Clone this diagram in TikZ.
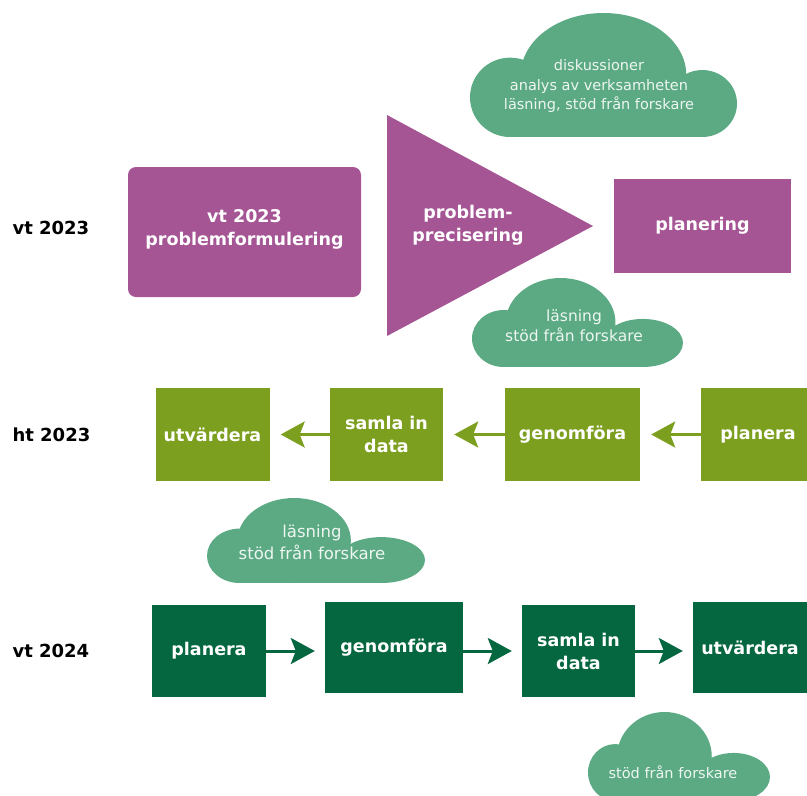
\documentclass[tikz,border=0pt]{standalone}
\usepackage{fontspec}
\setmainfont{DejaVu Sans}
\usetikzlibrary{arrows.meta}
\definecolor{lila}{HTML}{A55594}
\definecolor{oliv}{HTML}{7D9F1F}
\definecolor{morkgron}{HTML}{05673F}
\definecolor{molngron}{HTML}{5BAA84}
\definecolor{molntext}{HTML}{EEF6F1}
\newcommand{\rutfont}{\fontsize{17.5}{23}\selectfont}
\newcommand{\molnfont}{\fontsize{14.5}{19.5}\selectfont}
\tikzset{
    mybox/.style = {rectangle, inner sep=0pt, align=center, fill=lila, font=\bfseries\rutfont, text=white},
    myboxo/.style = {mybox, fill=oliv, minimum height=93},
    myboxg/.style = {mybox, fill=morkgron},
    mytext/.style = {align=center, font=\bfseries\rutfont, text=white},
    mycloudtext/.style = {align=center, font=\molnfont, text=molntext},
    myyear/.style = {anchor=west, font=\bfseries\fontsize{18}{22}\selectfont, text=black},
    edgeo/.style = {-{Stealth[length=24pt, width=26pt, inset=5pt]}, line width=3pt, oliv, shorten >=11pt},
    edgeg/.style = {-{Stealth[length=24pt, width=26pt, inset=5pt]}, line width=3pt, morkgron, shorten >=10pt},
    pics/moln/.style n args = {4}{code = {
        \fill[molngron] (0.15, 0.68) ellipse [x radius=0.15, y radius=0.32];
        \fill[molngron] (#1, 0.5) ellipse [x radius=#2, y radius=0.5];
        \fill[molngron] (#3, 0.73) ellipse [x radius=#4, y radius=0.27];
        \fill[molngron] (0.15, 0.6) rectangle (#3, 1.0);
    }}
}

\begin{document}
\begin{tikzpicture}[x=1pt, y=-1pt]
\useasboundingbox (0, 0) rectangle (807, 796);

% clouds
\pic[xscale=267, yscale=124] at (470, 13) {moln={0.5}{0.31}{0.87}{0.13}};
\pic[xscale=211, yscale=89] at (472, 278) {moln={0.42}{0.26}{0.81}{0.19}};
\pic[xscale=218, yscale=85] at (207, 498) {moln={0.40}{0.26}{0.80}{0.20}};
\pic[xscale=182, yscale=89] at (588, 712) {moln={0.42}{0.26}{0.80}{0.20}};
\node[mycloudtext] at (599, 86) (moln1) {diskussioner\\analys av verksamheten\\läsning, stöd från forskare};
\node[mycloudtext, font=\fontsize{15.5}{20}\selectfont] at (574, 326) (moln2) {läsning\\stöd från forskare};
\node[mycloudtext, font=\fontsize{16.5}{22}\selectfont] at (312, 542) (moln3) {läsning\\stöd från forskare};
\node[mycloudtext] at (673, 772) (moln4) {stöd från forskare};

% year labels
\node[myyear] at (9, 228) (vt23) {vt 2023};
\node[myyear] at (9, 435) (ht23) {ht 2023};
\node[myyear] at (9, 651) (vt24) {vt 2024};

% vt 2023
\node[mybox, rounded corners=8pt, minimum width=233, minimum height=130] at (244.5, 232) (form) {vt 2023\\problemformulering\\[-15pt]};
\fill[lila] (387, 115) -- (593, 226) -- (387, 336) -- cycle;
\node[mytext] at (468, 225) (prec) {problem-\\precisering};
\node[mybox, minimum width=177, minimum height=94] at (702.5, 226) (planering) {planering};

% ht 2023
\node[myboxo, minimum width=114] at (212.5, 434.5) (utv2) {utvärdera};
\node[myboxo, minimum width=113] at (386.5, 434.5) (saml2) {samla in\\data};
\node[myboxo, minimum width=135] at (572.5, 434.5) (geno2) {genomföra};
\node[myboxo, minimum width=114] at (758, 434.5) (plan2) {planera};

\draw[edgeo] (plan2) -- (geno2);
\draw[edgeo] (geno2) -- (saml2);
\draw[edgeo] (saml2) -- (utv2);

% vt 2024
\node[myboxg, minimum width=114, minimum height=92] at (209, 651) (plan3) {planera};
\node[myboxg, minimum width=138, minimum height=91] at (394, 647.5) (geno3) {genomföra};
\node[myboxg, minimum width=113, minimum height=92] at (578.5, 651) (saml3) {samla in\\data};
\node[myboxg, minimum width=114, minimum height=91] at (750, 647.5) (utv3) {utvärdera};

\draw[edgeg] (plan3.east) -- (plan3.east -| geno3.west);
\draw[edgeg] (geno3.east |- saml3.west) -- (saml3.west);
\draw[edgeg] (saml3.east) -- (saml3.east -| utv3.west);
\end{tikzpicture}
\end{document}
